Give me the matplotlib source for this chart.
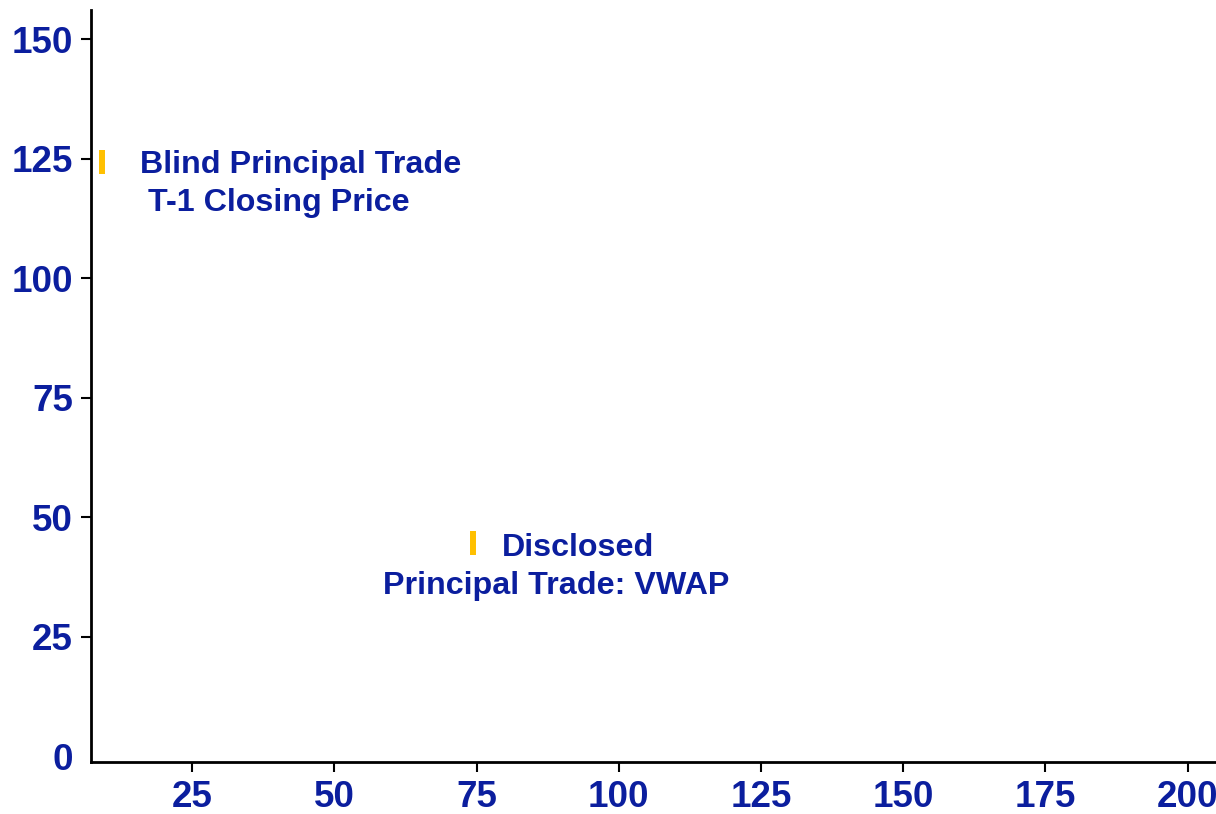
import matplotlib
matplotlib.use("Agg")
import matplotlib.pyplot as plt

# Data
point_x = [9.1, 74.4]
point_y = [124.4, 44.6]
labels = [
    ("Blind Principal Trade", 15.8, 123.6),
    ("T-1 Closing Price", 17.3, 115.8),
    ("Disclosed", 79.5, 43.5),
    ("Principal Trade: VWAP", 58.6, 35.7),
]
xticks = [25, 50, 75, 100, 125, 150, 175, 200]
yticks = [0, 25, 50, 75, 100, 125, 150]

BLUE = "#0B1E9E"
GOLD = "#FFC000"

plt.rcParams['font.family'] = ['Liberation Sans', 'DejaVu Sans']

fig = plt.figure(figsize=(12.16, 8.14), dpi=100)
ax = fig.add_axes([0.0748, 0.0643, 0.9252, 0.9234])

ax.plot(point_x, point_y, linestyle='none', marker='|', markersize=17,
        markeredgewidth=4.3, color=GOLD)

for txt, x, y in labels:
    ax.text(x, y, txt, ha='left', va='center', fontsize=23.2,
            fontweight='bold', color=BLUE)

ax.set_xlim(7.2, 205)
ax.set_ylim(-1.15, 156.1)
ax.set_xticks(xticks)
ax.set_yticks(yticks)
ax.tick_params(axis='both', which='major', direction='out', length=7,
               width=1.5, colors='black', labelcolor=BLUE, labelsize=26.5, pad=6)
for lab in ax.get_xticklabels() + ax.get_yticklabels():
    lab.set_fontweight('bold')
ax.yaxis.get_major_ticks()[0].tick1line.set_visible(False)

for s in ['top', 'right']:
    ax.spines[s].set_visible(False)
for s in ['left', 'bottom']:
    ax.spines[s].set_linewidth(2)
    ax.spines[s].set_color('black')

fig.savefig("out.png", dpi=100)
